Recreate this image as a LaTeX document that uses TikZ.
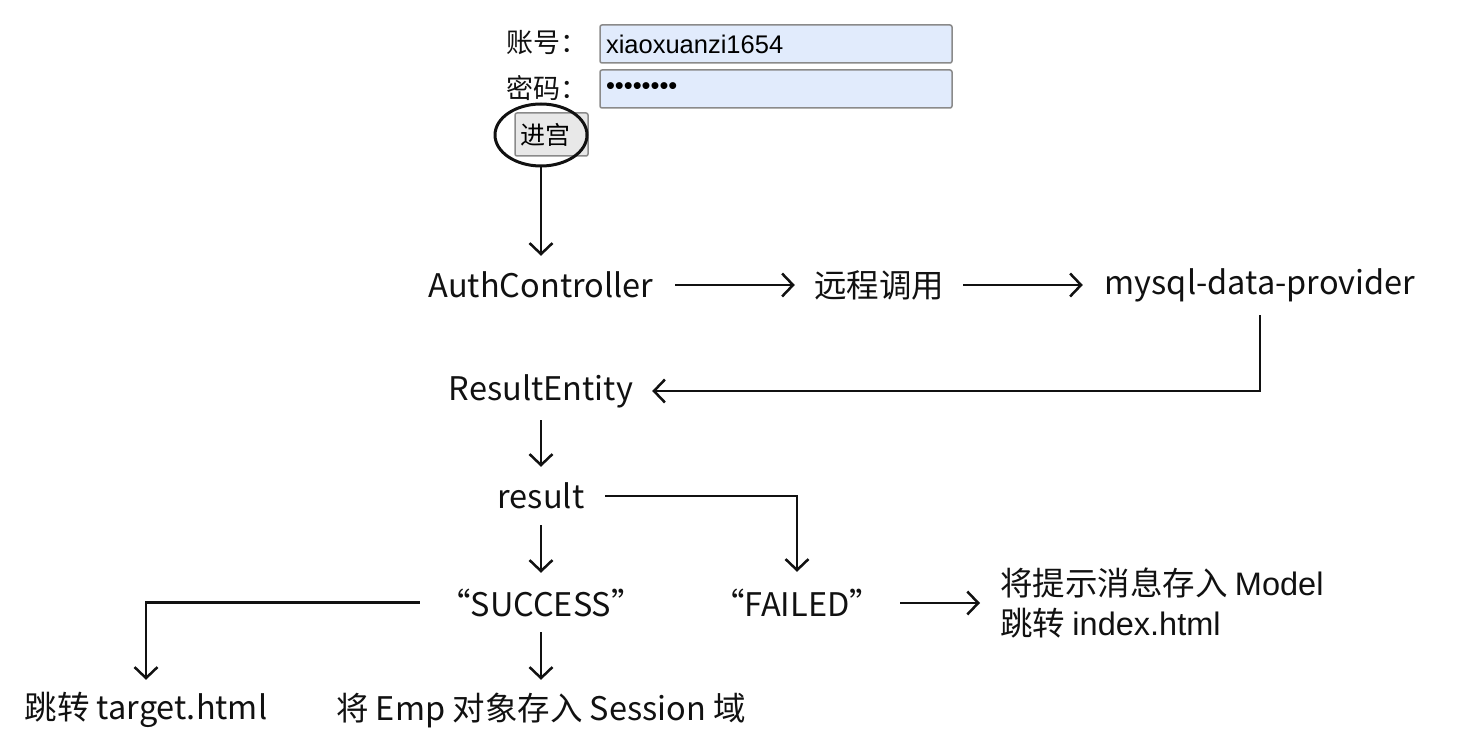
\documentclass[tikz,border=0pt]{standalone}
\usepackage{fontspec}
\setmainfont{Noto Sans CJK SC}
\newfontfamily\lib{Liberation Sans}
\usetikzlibrary{arrows.meta,shapes.geometric}
\definecolor{fieldfill}{HTML}{E1EBFC}
\definecolor{fieldline}{HTML}{8A8A8A}
\definecolor{btnfill}{HTML}{E8E8E8}
\definecolor{ink}{HTML}{111111}
\begin{document}
\begin{tikzpicture}[x=1pt,y=-1pt,
  lbl/.style={font=\fontsize{32.5}{40}\selectfont, inner sep=0pt, text=ink},
  formlbl/.style={font=\fontsize{27}{30}\selectfont, inner sep=0pt, text=ink},
  conn/.style={line width=2.5pt, draw=ink, -{Straight Barb[length=11pt,width=23pt,line width=2.5pt]}},
  field/.style={draw=fieldline, fill=fieldfill, rounded corners=2pt, line width=1.5pt,
    text width=340pt, minimum height=38pt, inner xsep=6pt, inner ysep=0pt, align=left,
    font=\lib\fontsize{25.5}{28}\selectfont},
  btn/.style={draw=fieldline, fill=btnfill, rounded corners=2pt, line width=1.5pt,
    minimum width=73pt, minimum height=43pt, inner sep=0pt, font=\fontsize{25}{28}\selectfont},
  ring/.style={ellipse, draw=ink, line width=3pt, minimum width=92pt, minimum height=62pt, inner sep=0pt}
]
\useasboundingbox (0,0) rectangle (1472,754);

% login form
\node[formlbl, anchor=east] (acclbl) at (588,43) {账号：};
\node[formlbl, anchor=east] (pwdlbl) at (588,88) {密码：};
\node[field] (accfield) at (776,44) {xiaoxuanzi1654};
\node[field] (pwdfield) at (776,89) {••••••••};
\node[btn] (button) at (551.5,134.5) {\hspace*{-13pt}进宫};
\node[ring] (circ) at (541,135) {};

% flow nodes
\node[lbl, minimum width=268pt, minimum height=58pt] (auth) at (541,285) {AuthController};
\node[lbl, minimum width=168pt] (remote) at (879,285) {远程调用};
\node[lbl, minimum width=354pt, minimum height=60pt] (mysql) at (1260,285) {mysql-data-provider};
\node[lbl, minimum width=222pt, minimum height=58pt] (resent) at (541,391) {ResultEntity};
\node[lbl, minimum width=128pt, minimum height=58pt] (result) at (541,496) {result};
\node[lbl, minimum width=242pt, minimum height=59pt] (success) at (541,602.5) {“SUCCESS”};
\node[lbl, minimum width=206pt, minimum height=62pt] (failed) at (797,603) {“FAILED”};
\node[lbl, minimum height=60pt] (target) at (146,710) {跳转 target.html};
\node[lbl, minimum height=60pt] (emp) at (541,710) {将 Emp 对象存入 Session 域};
\node[lbl, anchor=west, inner xsep=20pt, align=left] (model) at (980,603)
  {将提示消息存入 {\lib Model}\\跳转 {\lib index.html}};

% connectors
\draw[conn] (circ.south) -- (auth.north);
\draw[conn] (auth.east) -- (remote.west);
\draw[conn] (remote.east) -- (mysql.west);
\draw[conn] (mysql.south) |- (resent.east);
\draw[conn] (resent.south) -- (result.north);
\draw[conn] (result.east) -| (failed.north);
\draw[conn] (result.south) -- (success.north);
\draw[conn] (success.west) -| (target.north);
\draw[conn] (success.south) -- (emp.north);
\draw[conn] (failed.east) -- (model.west);
\end{tikzpicture}
\end{document}
